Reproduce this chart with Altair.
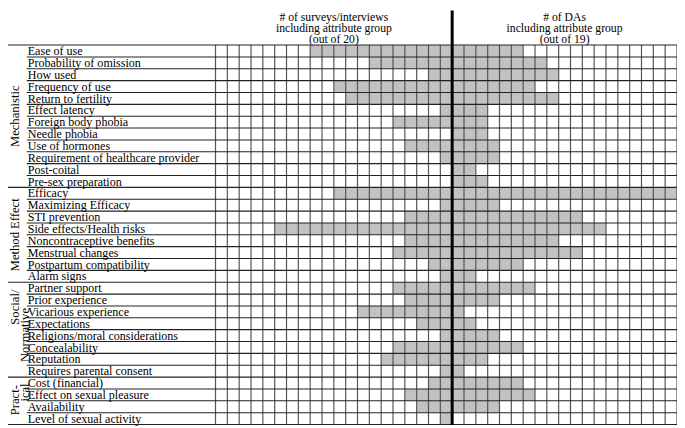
import altair as alt
import pandas as pd

# ---------------- data ----------------
groups = ["Mechanistic", "Method Effect", "Social/\nNormative", "Pract-\nical"]
group_sizes = [12, 8, 8, 4]

attributes = [
    "Ease of use", "Probability of omission", "How used", "Frequency of use",
    "Return to fertility", "Effect latency", "Foreign body phobia", "Needle phobia",
    "Use of hormones", "Requirement of healthcare provider", "Post-coital",
    "Pre-sex preparation",
    "Efficacy", "Maximizing Efficacy", "STI prevention", "Side effects/Health risks",
    "Noncontraceptive benefits", "Menstrual changes", "Postpartum compatibility",
    "Alarm signs",
    "Partner support", "Prior experience", "Vicarious experience", "Expectations",
    "Religions/moral considerations", "Concealability", "Reputation",
    "Requires parental consent",
    "Cost (financial)", "Effect on sexual pleasure", "Availability",
    "Level of sexual activity",
]
survey_counts = [12, 7, 2, 10, 9, 1, 5, 0, 4, 1, 0, 0,
                 10, 1, 4, 15, 4, 5, 2, 1,
                 5, 4, 8, 3, 1, 5, 6, 1,
                 2, 4, 3, 1]
da_counts = [6, 8, 9, 7, 9, 3, 3, 3, 4, 4, 2, 3,
             19, 4, 11, 13, 9, 11, 6, 2,
             7, 4, 1, 2, 4, 6, 3, 1,
             6, 7, 4, 0]

header_left = ["# of surveys/interviews", "including attribute group", "(out of 20)"]
header_right = ["# of DAs", "including attribute group", "(out of 19)"]
N_SURVEYS = 20
N_DAS = 19

# ---------------- layout ----------------
W, H = 677, 420
CELL = 11.974          # px per column
GRID_X0 = 210          # px where grid starts
ROW = 12.0             # px per row
GRID_Y0 = 35           # px where grid starts
NCOL = N_SURVEYS + N_DAS
NROW = len(attributes)


def ux(px):
    return (px - GRID_X0) / CELL


def uy(py):
    return (py - GRID_Y0) / ROW


X_MIN, X_MAX = ux(0), ux(W)
Y_MIN, Y_MAX = uy(0), uy(H)
xs = alt.Scale(domain=[X_MIN, X_MAX], nice=False, zero=False)
ys = alt.Scale(domain=[Y_MIN, Y_MAX], reverse=True, nice=False, zero=False)
FONT = "Liberation Serif"
FILL = "#c2c2c2"

# cells
recs = []
for r, (s, d) in enumerate(zip(survey_counts, da_counts)):
    for c in range(1, N_SURVEYS + 1):
        recs.append(dict(x0=N_SURVEYS - c, x1=N_SURVEYS - c + 1, y0=r, y1=r + 1,
                         filled="y" if c <= s else "n"))
    for c in range(1, N_DAS + 1):
        recs.append(dict(x0=N_SURVEYS + c - 1, x1=N_SURVEYS + c, y0=r, y1=r + 1,
                         filled="y" if c <= d else "n"))
cells = pd.DataFrame(recs)

cell_layer = alt.Chart(cells).mark_rect(strokeWidth=0).encode(
    x=alt.X("x0:Q", scale=xs, axis=None),
    x2="x1:Q",
    y=alt.Y("y0:Q", scale=ys, axis=None),
    y2="y1:Q",
    fill=alt.Fill("filled:N", scale=alt.Scale(domain=["y", "n"], range=[FILL, "white"]),
                  legend=None),
)

# vertical grid lines
vx = [i for i in range(NCOL + 1) if i != N_SURVEYS]
vlines = pd.DataFrame({"x": vx, "ya": [0] * len(vx), "yb": [NROW] * len(vx)})
vline_layer = alt.Chart(vlines).mark_rule(color="#555555", strokeWidth=1.2).encode(
    x=alt.X("x:Q", scale=xs, axis=None),
    y=alt.Y("ya:Q", scale=ys, axis=None),
    y2="yb:Q",
)

# horizontal lines
group_bounds = [0]
for g in group_sizes:
    group_bounds.append(group_bounds[-1] + g)
hrecs = []
for b in range(NROW + 1):
    start = X_MIN if b in group_bounds else ux(19)
    hrecs.append(dict(y=b, xa=start, xb=X_MAX))
hlines = pd.DataFrame(hrecs)
hline_layer = alt.Chart(hlines).mark_rule(color="#222222", strokeWidth=1.1).encode(
    x=alt.X("xa:Q", scale=xs, axis=None),
    x2="xb:Q",
    y=alt.Y("y:Q", scale=ys, axis=None),
)

# thick divider
thick = alt.Chart(pd.DataFrame({"x": [N_SURVEYS], "ya": [Y_MIN], "yb": [NROW + 0.05]})).mark_rule(
    color="black", strokeWidth=3
).encode(
    x=alt.X("x:Q", scale=xs, axis=None),
    y=alt.Y("ya:Q", scale=ys, axis=None),
    y2="yb:Q",
)

# attribute labels
labels = pd.DataFrame({
    "name": attributes,
    "y": [r + 1 - 0.15 for r in range(NROW)],
    "x": [ux(20)] * NROW,
})
label_layer = alt.Chart(labels).mark_text(
    align="left", baseline="alphabetic", font=FONT, fontSize=12.2, color="black"
).encode(
    x=alt.X("x:Q", scale=xs, axis=None),
    y=alt.Y("y:Q", scale=ys, axis=None),
    text="name:N",
)

# group labels (rotated); line positions within each group box
line_x_px = [7.0, 17.0]           # column of first / second text line
line_y_off = {                     # centre offset (rows from group top) per line
    0: [6.0], 1: [4.0], 2: [2.1, 4.45], 3: [1.95, 1.3],
}
grecs = []
for gi, g in enumerate(groups):
    top = group_bounds[gi]
    parts = g.split("\n")
    for li, p in enumerate(parts):
        xpx = 7.5 if len(parts) == 1 else line_x_px[li]
        grecs.append(dict(t=p, x=ux(xpx), y=top + line_y_off[gi][li]))
gdf = pd.DataFrame(grecs)
group_layer = alt.Chart(gdf).mark_text(
    angle=270, align="center", baseline="middle", font=FONT, fontSize=12.8, color="black"
).encode(
    x=alt.X("x:Q", scale=xs, axis=None),
    y=alt.Y("y:Q", scale=ys, axis=None),
    text="t:N",
)

# headers
hy = [uy(10.2), uy(21.7), uy(33.2)]
hdr = pd.DataFrame({
    "t": header_left + header_right,
    "x": [N_SURVEYS / 2] * 3 + [N_SURVEYS + N_DAS / 2] * 3,
    "y": hy + hy,
})
hdr_layer = alt.Chart(hdr).mark_text(
    align="center", baseline="alphabetic", font=FONT, fontSize=11.8, color="black"
).encode(
    x=alt.X("x:Q", scale=xs, axis=None),
    y=alt.Y("y:Q", scale=ys, axis=None),
    text="t:N",
)

chart = alt.layer(
    cell_layer, vline_layer, hline_layer, thick, label_layer, group_layer, hdr_layer
).properties(
    width=W, height=H, padding=0, autosize=alt.AutoSizeParams(type="none")
).configure_view(stroke=None)

chart.save("out.html", embed_options={"renderer": "svg", "actions": False})
